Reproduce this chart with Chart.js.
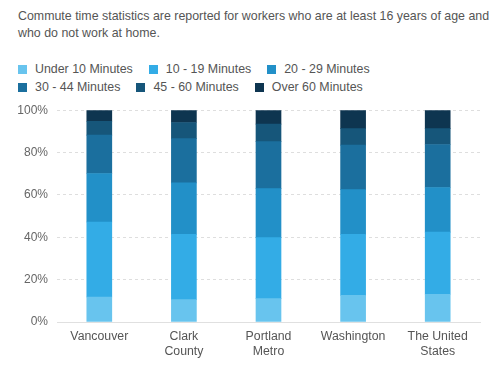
<!DOCTYPE html>
<html>
<head>
<meta charset="utf-8">
<script src="https://cdn.jsdelivr.net/npm/chart.js@4"></script>
<style>
  html, body { margin: 0; padding: 0; background: #fff; }
  body { width: 499px; height: 370px; position: relative; overflow: hidden; font-family: "Liberation Sans", Arial, sans-serif; }
  #note { position: absolute; left: 18px; top: 8px; width: 475px; font-size: 12.4px; line-height: 17px; color: #555; }
  #legend { position: absolute; left: 18px; top: 60px; font-size: 12.4px; color: #555; line-height: 18px; }
  .row { display: flex; }
  .item { display: flex; align-items: center; margin-right: 16px; white-space: nowrap; }
  .box { width: 9px; height: 9px; margin-right: 8px; }
  #wrap { position: absolute; left: 0; top: 94px; width: 499px; height: 276px; }
</style>
</head>
<body>
<div id="note">Commute time statistics are reported for workers who are at least 16 years of age and who do not work at home.</div>
<div id="legend"></div>
<div id="wrap"><canvas id="c"></canvas></div>
<script>
const categories = [["Vancouver"], ["Clark", "County"], ["Portland", "Metro"], ["Washington"], ["The United", "States"]];
const seriesNames = ["Under 10 Minutes", "10 - 19 Minutes", "20 - 29 Minutes", "30 - 44 Minutes", "45 - 60 Minutes", "Over 60 Minutes"];
const under10 = [11.8, 10.6, 11.0, 12.6, 13.1];
const min10to19 = [35.4, 30.8, 28.8, 28.8, 29.3];
const min20to29 = [22.9, 24.3, 23.2, 21.1, 21.1];
const min30to44 = [18.1, 20.9, 22.2, 21.0, 20.3];
const min45to60 = [6.6, 7.6, 8.2, 7.8, 7.5];
const over60 = [5.2, 5.8, 6.6, 8.7, 8.7];
const yTicks = [0, 20, 40, 60, 80, 100];
const colors = ["#68c4ee", "#33ace6", "#2290c8", "#1b6f9e", "#16567a", "#0e3550"];

const series = [under10, min10to19, min20to29, min30to44, min45to60, over60];

const legend = document.getElementById('legend');
let row;
seriesNames.forEach((n, i) => {
  if (i % 3 === 0) { row = document.createElement('div'); row.className = 'row'; legend.appendChild(row); }
  const it = document.createElement('div'); it.className = 'item';
  const b = document.createElement('span'); b.className = 'box'; b.style.background = colors[i];
  const t = document.createElement('span'); t.textContent = n;
  it.appendChild(b); it.appendChild(t); row.appendChild(it);
});

new Chart(document.getElementById('c'), {
  type: 'bar',
  data: {
    labels: categories,
    datasets: series.map((d, i) => ({
      label: seriesNames[i], data: d, backgroundColor: colors[i], borderWidth: 0, barThickness: 25
    }))
  },
  options: {
    responsive: true, maintainAspectRatio: false, animation: false,
    layout: { padding: { top: 4, left: 0, right: 19, bottom: 0 } },
    plugins: { legend: { display: false }, tooltip: { enabled: false } },
    scales: {
      x: {
        stacked: true,
        grid: { display: false, drawTicks: false },
        border: { display: true, color: '#e0e0e0', width: 1 },
        ticks: { color: '#555', font: { family: '"Liberation Sans", Arial, sans-serif', size: 12.3, lineHeight: 1.25 }, padding: 7, maxRotation: 0, autoSkip: false },
        afterFit: s => { s.height = 48; }
      },
      y: {
        stacked: true, min: 0, max: 100,
        afterBuildTicks: s => { s.ticks = yTicks.map(v => ({ value: v })); },
        grid: { color: '#dedede', drawTicks: false },
        border: { display: false, dash: [3, 3] },
        ticks: { color: '#666', font: { family: '"Liberation Sans", Arial, sans-serif', size: 12 }, padding: 9, callback: v => v + '%' },
        afterFit: s => { s.width = 57; }
      }
    }
  }
});
</script>
</body>
</html>
